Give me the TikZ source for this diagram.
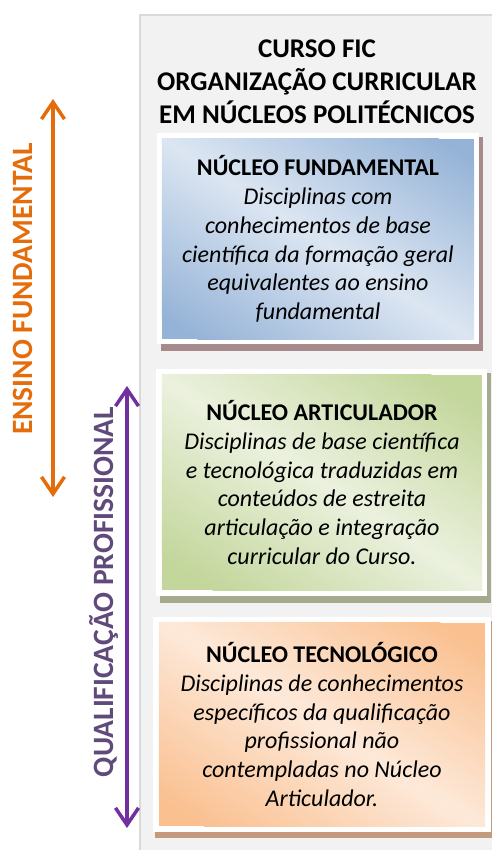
\documentclass[tikz,border=0pt]{standalone}
\usepackage{fontspec}
\setmainfont{Carlito}
\usepackage{tikz}
\usetikzlibrary{arrows.meta, backgrounds, positioning, calc}
\definecolor{painel}{HTML}{F2F2F2}
\definecolor{bordaPainel}{HTML}{D9D9D9}
\definecolor{azulEsc}{HTML}{95B3D7}
\definecolor{azulCla}{HTML}{DCE6F2}
\definecolor{verdeEsc}{HTML}{C3D69B}
\definecolor{verdeCla}{HTML}{EBF1DE}
\definecolor{laranjaEsc}{HTML}{FAC090}
\definecolor{laranjaCla}{HTML}{FDE9D9}
\definecolor{sombraAzul}{HTML}{A68A8C}
\definecolor{sombraVerde}{HTML}{A3AA8E}
\definecolor{sombraLaranja}{HTML}{C49A7C}
\definecolor{laranja}{HTML}{E46C0A}
\definecolor{roxo}{HTML}{7030A0}
\definecolor{roxoTexto}{HTML}{604A7B}

\begin{document}
\begin{tikzpicture}[x=1pt,y=-1pt,
        nucleo/.style={inner sep=0pt, align=center, font=\fontsize{24}{28.7}\selectfont},
        rotulo/.style={rotate=90, inner sep=0pt, font=\fontsize{29.5}{32}\selectfont\bfseries},
        seta/.style={line width=3.5pt, {Straight Barb[length=17pt,width=23pt]}-{Straight Barb[length=17pt,width=23pt]}}]

        \useasboundingbox (0,0) rectangle (491,850);

        % Título do painel
        \node[align=center, font=\fontsize{27}{33}\selectfont\bfseries] (titulo) at (317,81.5)
            {CURSO FIC\\ORGANIZAÇÃO CURRICULAR\\EM NÚCLEOS POLITÉCNICOS};

        % Os três núcleos
        \node[nucleo, minimum width=312pt, minimum height=200pt] (fundamental) at (318,239)
            {\textbf{NÚCLEO FUNDAMENTAL}\\\textit{Disciplinas com}\\\textit{conhecimentos de base}\\
             \textit{científica da formação geral}\\\textit{equivalentes ao ensino}\\\textit{fundamental}};
        \node[nucleo, minimum width=320pt, minimum height=215pt] (articulador) at (322,482.5)
            {\textbf{NÚCLEO ARTICULADOR}\\\textit{Disciplinas de base científica}\\\textit{e tecnológica traduzidas em}\\
             \textit{conteúdos de estreita}\\\textit{articulação e integração}\\\textit{curricular do Curso.}};
        \node[nucleo, minimum width=326pt, minimum height=203pt] (tecnologico) at (322,724.5)
            {\textbf{NÚCLEO TECNOLÓGICO}\\\textit{Disciplinas de conhecimentos}\\\textit{específicos da qualificação}\\
             \textit{profissional não}\\\textit{contempladas no Núcleo}\\\textit{Articulador.}};

        % Painel, sombras e molduras brancas
        \begin{scope}[on background layer]
            \fill[painel, draw=bordaPainel, line width=2.5pt] (140,15) rectangle (500,860);
            \fill[sombraAzul] ([shift={(-1,-2)}]fundamental.north west) rectangle ([shift={(9,12)}]fundamental.south east);
            \fill[white] ([shift={(-5,-6)}]fundamental.north west) rectangle ([shift={(5,5)}]fundamental.south east);
            \fill[sombraVerde] ([shift={(-2,-2)}]articulador.north west) rectangle ([shift={(9,13)}]articulador.south east);
            \fill[white] ([shift={(-6,-6)}]articulador.north west) rectangle ([shift={(5,6)}]articulador.south east);
            \fill[sombraLaranja] ([shift={(-4,-2)}]tecnologico.north west) rectangle ([shift={(10,12)}]tecnologico.south east);
            \fill[white] ([shift={(-6,-6)}]tecnologico.north west) rectangle ([shift={(6,6)}]tecnologico.south east);
            % Degradê diagonal dentro de cada núcleo
            \foreach \caixa/\esc/\cla in {fundamental/azulEsc/azulCla, articulador/verdeEsc/verdeCla, tecnologico/laranjaEsc/laranjaCla} {
                \begin{scope}
                    \clip (\caixa.north west) rectangle (\caixa.south east);
                    \fill[\esc] (\caixa.north west) rectangle (\caixa.south east);
                    \shade[top color=\esc, bottom color=\esc, middle color=\cla,
                        transform canvas={rotate around={-33:(\caixa.center)}}]
                        ([shift={(-300,-150)}]\caixa.center) rectangle ([shift={(300,150)}]\caixa.center);
                \end{scope}
            }
        \end{scope}

        % Setas à esquerda
        \coordinate (efTopo) at (53,99);
        \coordinate (efBase) at (53,497);
        \coordinate (qpTopo) at (127,386);
        \coordinate (qpBase) at (127,828);
        \draw[seta, laranja] (efTopo) -- (efBase); % Ensino fundamental
        \draw[seta, roxo] (qpTopo) -- (qpBase); % Qualificação profissional

        % Rótulos das setas
        \node[rotulo, text=laranja] (ensino) at (23,289) {ENSINO FUNDAMENTAL};
        \node[rotulo, text=roxoTexto] (qualificacao) at (104,592) {QUALIFICAÇÃO PROFISSIONAL};

\end{tikzpicture}
\end{document}
